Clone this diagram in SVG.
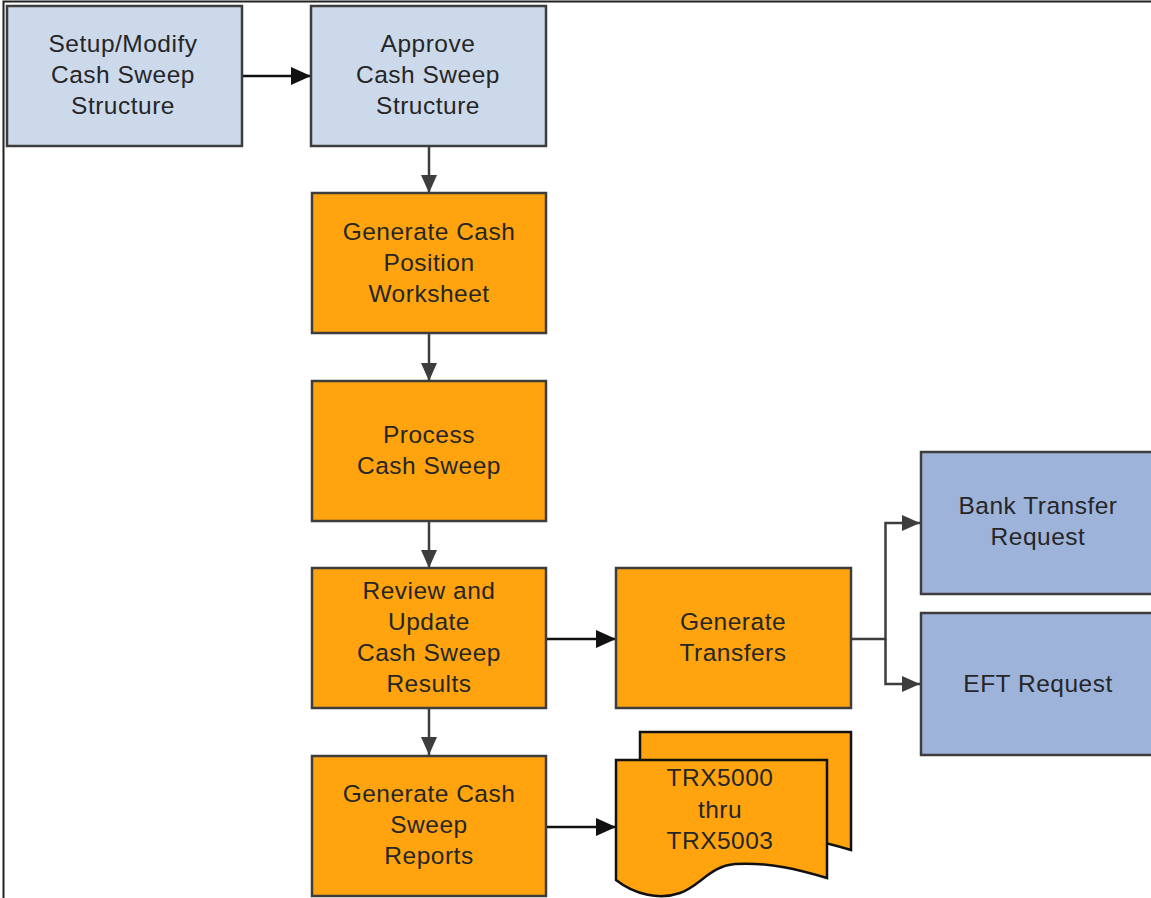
<svg xmlns="http://www.w3.org/2000/svg" width="1151" height="898" viewBox="0 0 1151 898">
<style>
  .box { stroke: #3d3d3d; stroke-width: 2.5; }
  .light { fill: #CCD9EB; }
  .orange { fill: #FFA40F; }
  .blue { fill: #9EB3DA; }
  .lbl { font-family: "Liberation Sans", Arial, sans-serif; font-size: 24.5px; letter-spacing: 0.5px; fill: #262626; text-anchor: middle; }
  .conn { fill: none; stroke: #3d3d3d; stroke-width: 2.5; }
  .connk { fill: none; stroke: #111; stroke-width: 2.5; }
  .doc { fill: #FFA40F; stroke: #111; stroke-width: 2.5; }
</style>
<defs>
  <marker id="ah" markerUnits="userSpaceOnUse" markerWidth="18" markerHeight="16" refX="18" refY="8" orient="auto">
    <path d="M0,0 L18,8 L0,16 z" fill="#3d3d3d"/>
  </marker>
  <marker id="ahk" markerUnits="userSpaceOnUse" markerWidth="20" markerHeight="18" refX="20" refY="9" orient="auto">
    <path d="M0,0 L20,9 L0,18 z" fill="#111"/>
  </marker>
</defs>
<rect width="1151" height="898" fill="#fff"/>
<path d="M3.5,898 V1.5 H1151" fill="none" stroke="#222" stroke-width="2"/>

<g id="connectors">
  <line class="connk" x1="242" y1="76" x2="311" y2="76" marker-end="url(#ahk)"/>
  <line class="conn" x1="429" y1="146" x2="429" y2="193" marker-end="url(#ah)"/>
  <line class="conn" x1="429" y1="334" x2="429" y2="381" marker-end="url(#ah)"/>
  <line class="conn" x1="429" y1="521" x2="429" y2="568" marker-end="url(#ah)"/>
  <line class="conn" x1="429" y1="708" x2="429" y2="755" marker-end="url(#ah)"/>
  <line class="connk" x1="546" y1="639" x2="616" y2="639" marker-end="url(#ahk)"/>
  <line class="connk" x1="546" y1="827" x2="616" y2="827" marker-end="url(#ahk)"/>
  <path class="conn" d="M851,639 H885.5 V523 H920" marker-end="url(#ah)"/>
  <path class="conn" d="M885.5,639 V684 H920" marker-end="url(#ah)"/>
</g>

<g id="setup">
  <rect class="box light" x="7" y="6" width="235" height="140"/>
  <text class="lbl" x="123" y="52">Setup/Modify</text>
  <text class="lbl" x="123" y="83">Cash Sweep</text>
  <text class="lbl" x="123" y="114">Structure</text>
</g>
<g id="approve">
  <rect class="box light" x="311" y="6" width="235" height="140"/>
  <text class="lbl" x="428" y="52">Approve</text>
  <text class="lbl" x="428" y="83">Cash Sweep</text>
  <text class="lbl" x="428" y="114">Structure</text>
</g>
<g id="worksheet">
  <rect class="box orange" x="312" y="193" width="234" height="140"/>
  <text class="lbl" x="429" y="240">Generate Cash</text>
  <text class="lbl" x="429" y="271">Position</text>
  <text class="lbl" x="429" y="302">Worksheet</text>
</g>
<g id="process">
  <rect class="box orange" x="312" y="381" width="234" height="140"/>
  <text class="lbl" x="429" y="443">Process</text>
  <text class="lbl" x="429" y="474">Cash Sweep</text>
</g>
<g id="review">
  <rect class="box orange" x="312" y="568" width="234" height="140"/>
  <text class="lbl" x="429" y="599">Review and</text>
  <text class="lbl" x="429" y="630">Update</text>
  <text class="lbl" x="429" y="661">Cash Sweep</text>
  <text class="lbl" x="429" y="692">Results</text>
</g>
<g id="reports">
  <rect class="box orange" x="312" y="756" width="234" height="140"/>
  <text class="lbl" x="429" y="802">Generate Cash</text>
  <text class="lbl" x="429" y="833">Sweep</text>
  <text class="lbl" x="429" y="864">Reports</text>
</g>
<g id="transfers">
  <rect class="box orange" x="616" y="568" width="235" height="140"/>
  <text class="lbl" x="733" y="630">Generate</text>
  <text class="lbl" x="733" y="661">Transfers</text>
</g>
<g id="bank">
  <rect class="box blue" x="921" y="452" width="236" height="142"/>
  <text class="lbl" x="1038" y="514">Bank Transfer</text>
  <text class="lbl" x="1038" y="545">Request</text>
</g>
<g id="eft">
  <rect class="box blue" x="921" y="613" width="236" height="142"/>
  <text class="lbl" x="1038" y="692">EFT Request</text>
</g>
<g id="docs">
  <path class="doc" d="M640,732 H851 V850 C824,842 794,834 759,836 C734,838 724,858 704,865 C684,872 659,867 640,852 Z"/>
  <path class="doc" d="M616,760 H827 V878 C800,870 770,862 735,864 C710,866 700,886 680,893 C660,900 635,895 616,880 Z"/>
  <text class="lbl" x="720" y="786">TRX5000</text>
  <text class="lbl" x="720" y="818">thru</text>
  <text class="lbl" x="720" y="849">TRX5003</text>
</g>
</svg>
